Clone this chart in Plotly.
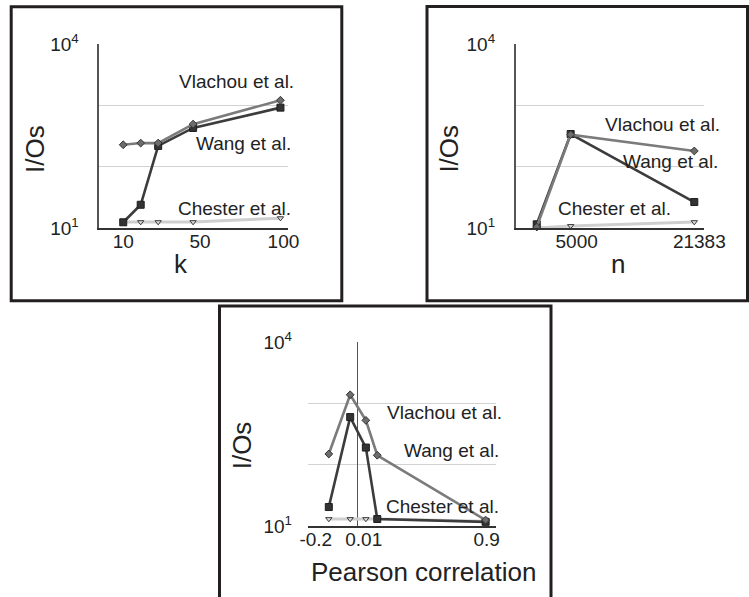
import plotly.graph_objects as go

# ---- data -------------------------------------------------------------
k_values = [10, 20, 30, 50, 100]
vlachou_k = [230, 245, 245, 500, 1230]
wang_k = [12.4, 24, 220, 433, 931]
chester_k = [12.5, 12.5, 12.5, 12.5, 14.5]

n_values = [500, 5000, 21383]
vlachou_n = [10.4, 337, 182]
wang_n = [11.5, 345, 26.6]
chester_n = [10, 10.8, 12.5]

corr_values = [-0.2, -0.05, 0.06, 0.14, 0.9]
vlachou_c = [150, 1390, 531, 143, 12.5]
wang_c = [20.4, 601, 191, 13, 11.7]
chester_c = [13, 13, 13, 13, 12]

k_ticks = [10, 50, 100]
k_ticktext = ["10", "50", "100"]
n_ticks = [5000, 21383]
n_ticktext = ["5000", "21383"]
corr_ticks = [-0.2, 0.01, 0.9]
corr_ticktext = ["-0.2", "0.01", "0.9"]
y_ticks = [10, 10000]
y_ticktext = ["10<sup>1</sup>", "10<sup>4</sup>"]
y_grid_only = [100, 1000]

series_names = ["Vlachou et al.", "Wang et al.", "Chester et al."]

# ---- canvas -----------------------------------------------------------
W, H = 749, 597
FONT = "Liberation Sans, Arial, sans-serif"
TXT = "#222222"
GRID = "#d2d2d2"


def px(x):
    return x / W


def py(y):
    return 1 - y / H


styles = {
    "Chester et al.": dict(line=dict(color="#cfcfcf", width=3),
                           marker=dict(symbol="triangle-down", size=5.5, color="#dadada",
                                       line=dict(color="#3a3a3a", width=1))),
    "Wang et al.": dict(line=dict(color="#3c3c3c", width=2.6),
                        marker=dict(symbol="square", size=7, color="#333333",
                                    line=dict(color="#1e1e1e", width=1))),
    "Vlachou et al.": dict(line=dict(color="#7b7b7b", width=2.6),
                           marker=dict(symbol="diamond", size=6, color="#6c6c6c",
                                       line=dict(color="#333333", width=1))),
}

y_top = [py(228), py(44)]
y_bot = [py(526), py(341.7)]

# per panel: x data, series, x-axis domain/range, tick labels and their
# horizontal nudges (px) for readability
panels = [
    dict(x=k_values, ys={"Vlachou et al.": vlachou_k, "Wang et al.": wang_k,
                         "Chester et al.": chester_k},
         ax="", dom=[px(99.3), px(288.3)], ydom=y_top, rng=[-3.7, 104.5],
         ticks=k_ticks, text=k_ticktext, shift=[0, 7, 3], yline=True),
    dict(x=n_values, ys={"Vlachou et al.": vlachou_n, "Wang et al.": wang_n,
                         "Chester et al.": chester_n},
         ax="2", dom=[px(515.7), px(704.3)], ydom=y_top, rng=[-2285, 22708],
         ticks=n_ticks, text=n_ticktext, shift=[6, 5], yline=True),
    dict(x=corr_values, ys={"Vlachou et al.": vlachou_c, "Wang et al.": wang_c,
                            "Chester et al.": chester_c},
         ax="3", dom=[px(308), px(496.3)], ydom=y_bot, rng=[-0.346, 0.975],
         ticks=corr_ticks, text=corr_ticktext, shift=[-13, 5, 1], yline=False),
]

fig = go.Figure()
for p in panels:
    for name in ["Chester et al.", "Wang et al.", "Vlachou et al."]:
        fig.add_trace(go.Scatter(
            x=p["x"], y=p["ys"][name], mode="lines+markers", name=name,
            xaxis="x" + p["ax"], yaxis="y" + p["ax"], cliponaxis=False,
            showlegend=False, **styles[name]))

tickfont = dict(family=FONT, size=19, color=TXT)

layout = dict(
    width=W, height=H, autosize=False,
    margin=dict(l=0, r=0, t=0, b=0, pad=0, autoexpand=False),
    paper_bgcolor="white", plot_bgcolor="white",
    font=dict(family=FONT, color=TXT),
)

next_axis = 4
for p in panels:
    xa, ya = "xaxis" + p["ax"], "yaxis" + p["ax"]
    xid, yid = "x" + p["ax"], "y" + p["ax"]
    layout[xa] = dict(domain=p["dom"], anchor=yid, range=p["rng"],
                      showticklabels=False, ticks="", showgrid=False,
                      showline=True, linecolor="#333333", linewidth=1.6,
                      zeroline=(p["ax"] == "3"), zerolinecolor="#555555",
                      zerolinewidth=1, automargin=False)
    layout[ya] = dict(type="log", range=[1, 4.01], domain=p["ydom"], anchor=xid,
                      tickvals=y_ticks, ticktext=y_ticktext, tickfont=tickfont,
                      showgrid=True, gridcolor=GRID, gridwidth=1,
                      minor=dict(tickvals=y_grid_only, showgrid=True,
                                 gridcolor=GRID, gridwidth=1, ticks=""),
                      showline=p["yline"], linecolor="#555555", linewidth=1.6,
                      zeroline=False, ticks="", ticklabelstandoff=15,
                      automargin=False)
    # tick labels, each on its own overlaid label axis with its own nudge;
    # an invisible anchor point keeps that axis in the drawing
    for val, txt, sh in zip(p["ticks"], p["text"], p["shift"]):
        aid = "x%d" % next_axis
        layout["xaxis%d" % next_axis] = dict(
            overlaying=xid, anchor=yid, range=p["rng"], tickvals=[val],
            ticktext=[txt], tickangle=0, tickfont=tickfont, ticks="",
            showgrid=False, showline=False, zeroline=False,
            ticklabelstandoff=0, ticklabelshift=sh, automargin=False)
        fig.add_trace(go.Scatter(x=[val], y=[y_ticks[0]], xaxis=aid, yaxis=yid,
                                 mode="markers", marker=dict(opacity=0, size=1),
                                 hoverinfo="skip", showlegend=False))
        next_axis += 1

fig.update_layout(**layout)

# panel frames
frame = dict(type="rect", xref="paper", yref="paper",
             line=dict(color="#231f20", width=3), fillcolor="rgba(0,0,0,0)")
for x0, y0, x1, y1 in [(11.2, 6.8, 341.8, 300.8),
                       (427, 6.5, 747.5, 300.8),
                       (219.5, 306, 551, 599)]:
    fig.add_shape(x0=px(x0), x1=px(x1), y0=py(y0), y1=py(y1), **frame)

# series labels
label_pos = [
    [(296, 82), (293, 144), (293, 209)],
    [(722, 124.3), (720, 161.7), (673.3, 209)],
    [(504, 412.7), (501.3, 450.7), (501.3, 506.7)],
]
for positions in label_pos:
    for name, (x, y) in zip(series_names, positions):
        fig.add_annotation(text=name, x=px(x), y=py(y), xref="paper", yref="paper",
                           xanchor="right", yanchor="middle", showarrow=False,
                           font=dict(family=FONT, size=19, color=TXT))

# axis titles
title_font = dict(family=FONT, size=26, color=TXT)
for text, x, y, angle in [("k", 181, 264, 0), ("n", 617.7, 264, 0),
                          ("Pearson correlation", 423, 572, 0),
                          ("I/Os", 34.3, 148.6, -90), ("I/Os", 449.3, 148.3, -90),
                          ("I/Os", 242.3, 445, -90)]:
    fig.add_annotation(text=text, x=px(x), y=py(y), xref="paper", yref="paper",
                       xanchor="center", yanchor="middle", textangle=angle,
                       showarrow=False, font=title_font)

fig.write_html("out.html",
               post_script="document.body.style.margin='0';"
                           "document.body.style.overflow='hidden';")
